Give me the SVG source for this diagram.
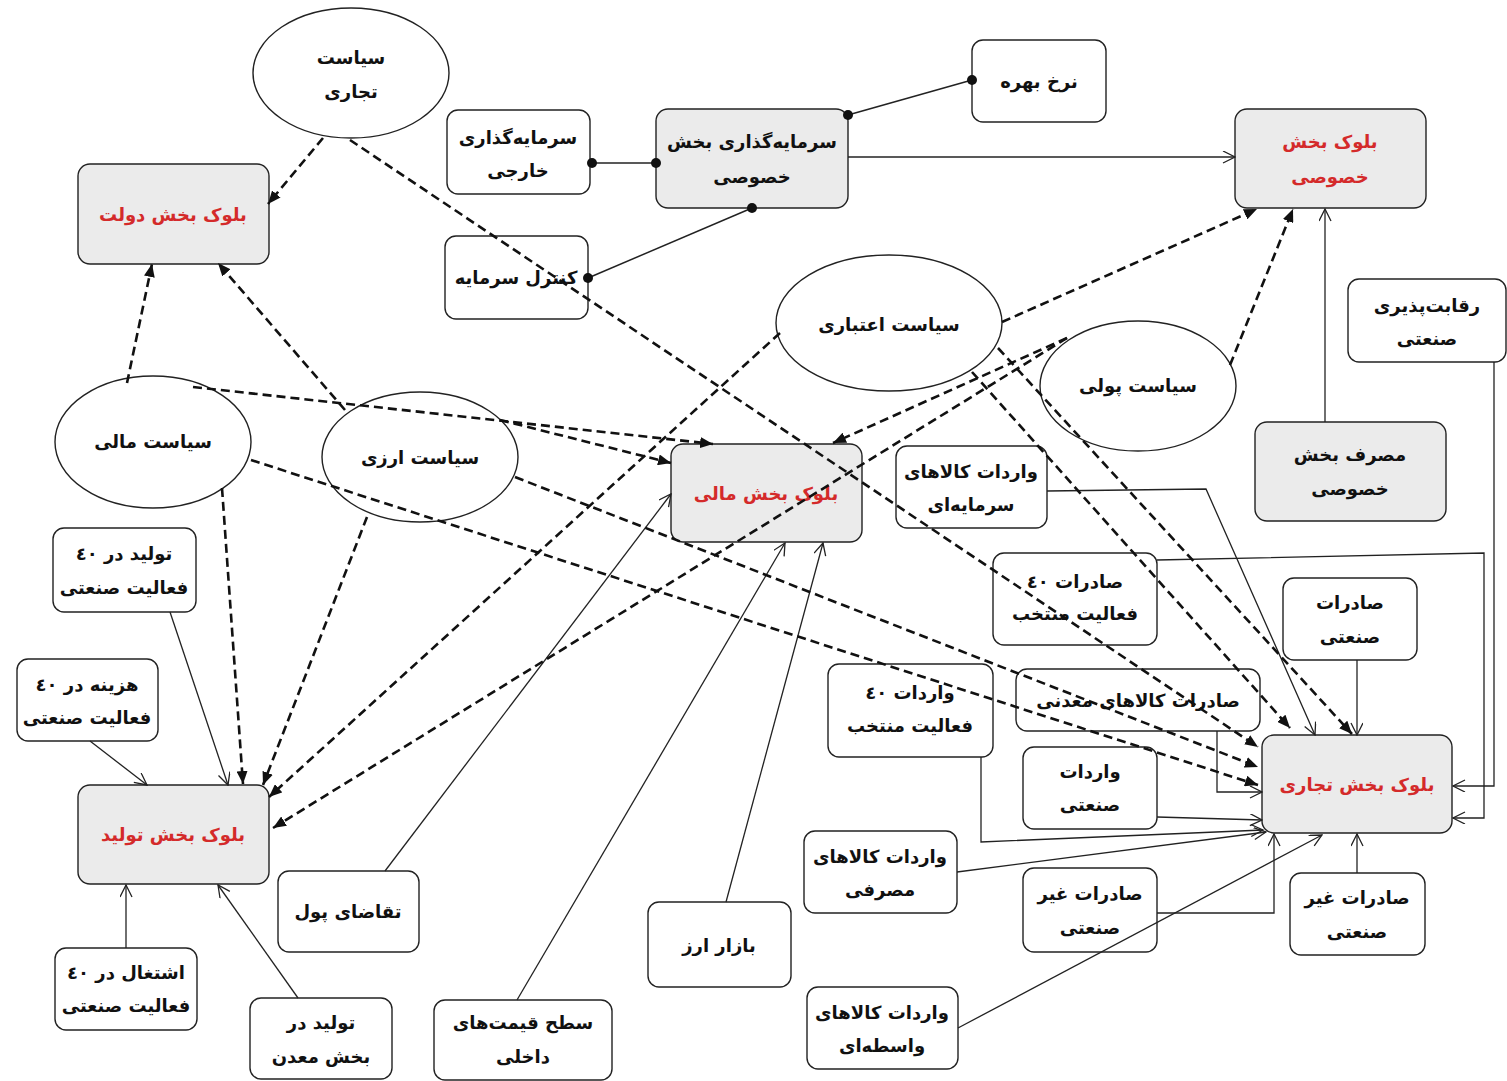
<svg xmlns="http://www.w3.org/2000/svg" width="1507" height="1081" viewBox="0 0 1507 1081">
<style>
.bx{fill:#fff;stroke:#222;stroke-width:1.4}
.gr{fill:#ebebeb}
.el{fill:#fff;stroke:#222;stroke-width:1.4}
.t{font-family:"DejaVu Sans",sans-serif;font-weight:bold;font-size:18px;text-anchor:middle;dominant-baseline:central;direction:rtl;fill:#111}
.red{fill:#d42a2a}
.ds{fill:none;stroke:#111;stroke-width:2.6;stroke-dasharray:9 5;marker-end:url(#af)}
.sl{fill:none;stroke:#222;stroke-width:1.3;marker-end:url(#ao)}
.dl{fill:none;stroke:#222;stroke-width:1.5}
.dot{fill:#111}
</style>
<defs>
<marker id="af" markerUnits="userSpaceOnUse" markerWidth="14" markerHeight="11" refX="13" refY="5.5" orient="auto"><path d="M0,0 L13,5.5 L0,11 z" fill="#111"/></marker>
<marker id="ao" markerUnits="userSpaceOnUse" markerWidth="14" markerHeight="14" refX="13" refY="6" orient="auto"><path d="M1,0 L13,6 L1,12" fill="none" stroke="#222" stroke-width="1.3"/></marker>
</defs>
<rect width="1507" height="1081" fill="#fff"/>
<g id="nodes">
<g id="n-siasat-tejari"><ellipse class="el" cx="351" cy="73" rx="98" ry="65"/><text class="t" x="351" y="57">سیاست</text><text class="t" x="351" y="91">تجاری</text></g>
<g id="n-block-dolat"><rect class="bx gr" x="78" y="164" width="191" height="100" rx="12"/><text class="t red" x="173" y="214">بلوک بخش دولت</text></g>
<g id="n-sarmaye-khareji"><rect class="bx" x="447" y="110" width="143" height="84" rx="11"/><text class="t" x="518" y="137">سرمایه‌گذاری</text><text class="t" x="518" y="170">خارجی</text></g>
<g id="n-sarmaye-khosusi"><rect class="bx gr" x="656" y="109" width="192" height="99" rx="12"/><text class="t" x="752" y="141">سرمایه‌گذاری بخش</text><text class="t" x="752" y="176">خصوصی</text></g>
<g id="n-nerkh-bahre"><rect class="bx" x="972" y="40" width="134" height="82" rx="11"/><text class="t" x="1039" y="81">نرخ بهره</text></g>
<g id="n-block-khosusi"><rect class="bx gr" x="1235" y="109" width="191" height="99" rx="12"/><text class="t red" x="1330" y="141">بلوک بخش</text><text class="t red" x="1330" y="176">خصوصی</text></g>
<g id="n-control-sarmaye"><rect class="bx" x="445" y="236" width="143" height="83" rx="11"/><text class="t" x="516" y="277">کنترل سرمایه</text></g>
<g id="n-siasat-etebari"><ellipse class="el" cx="889" cy="323" rx="113" ry="68"/><text class="t" x="889" y="324">سیاست اعتباری</text></g>
<g id="n-siasat-puli"><ellipse class="el" cx="1138" cy="386" rx="98" ry="65"/><text class="t" x="1138" y="385">سیاست پولی</text></g>
<g id="n-reghabat"><rect class="bx" x="1348" y="279" width="158" height="83" rx="11"/><text class="t" x="1427" y="305">رقابت‌پذیری</text><text class="t" x="1427" y="338">صنعتی</text></g>
<g id="n-masraf-khosusi"><rect class="bx gr" x="1255" y="422" width="191" height="99" rx="12"/><text class="t" x="1350" y="454">مصرف بخش</text><text class="t" x="1350" y="488">خصوصی</text></g>
<g id="n-siasat-mali"><ellipse class="el" cx="153" cy="442" rx="98" ry="66"/><text class="t" x="153" y="441">سیاست مالی</text></g>
<g id="n-siasat-arzi"><ellipse class="el" cx="420" cy="457" rx="98" ry="65"/><text class="t" x="420" y="457">سیاست ارزی</text></g>
<g id="n-block-mali"><rect class="bx gr" x="671" y="444" width="191" height="98" rx="12"/><text class="t red" x="766" y="493">بلوک بخش مالی</text></g>
<g id="n-varedat-sarmaye"><rect class="bx" x="896" y="446" width="151" height="82" rx="11"/><text class="t" x="971" y="471">واردات کالاهای</text><text class="t" x="971" y="504">سرمایه‌ای</text></g>
<g id="n-saderat-40"><rect class="bx" x="993" y="553" width="164" height="92" rx="11"/><text class="t" x="1075" y="581">صادرات ٤٠</text><text class="t" x="1075" y="613">فعالیت منتخب</text></g>
<g id="n-saderat-sanati"><rect class="bx" x="1283" y="578" width="134" height="82" rx="11"/><text class="t" x="1350" y="602">صادرات</text><text class="t" x="1350" y="636">صنعتی</text></g>
<g id="n-varedat-40"><rect class="bx" x="828" y="664" width="165" height="93" rx="11"/><text class="t" x="910" y="692">واردات ٤٠</text><text class="t" x="910" y="725">فعالیت منتخب</text></g>
<g id="n-saderat-maadani"><rect class="bx" x="1016" y="669" width="244" height="62" rx="11"/><text class="t" x="1138" y="700">صادرات کالاهای معدنی</text></g>
<g id="n-block-tejari"><rect class="bx gr" x="1262" y="735" width="190" height="98" rx="12"/><text class="t red" x="1357" y="784">بلوک بخش تجاری</text></g>
<g id="n-varedat-sanati"><rect class="bx" x="1023" y="747" width="134" height="82" rx="11"/><text class="t" x="1090" y="771">واردات</text><text class="t" x="1090" y="804">صنعتی</text></g>
<g id="n-varedat-masrafi"><rect class="bx" x="804" y="831" width="153" height="82" rx="11"/><text class="t" x="880" y="856">واردات کالاهای</text><text class="t" x="880" y="889">مصرفی</text></g>
<g id="n-saderat-gheir-1"><rect class="bx" x="1023" y="868" width="134" height="84" rx="11"/><text class="t" x="1090" y="893">صادرات غیر</text><text class="t" x="1090" y="927">صنعتی</text></g>
<g id="n-saderat-gheir-2"><rect class="bx" x="1290" y="873" width="135" height="82" rx="11"/><text class="t" x="1357" y="897">صادرات غیر</text><text class="t" x="1357" y="931">صنعتی</text></g>
<g id="n-varedat-vaseteh"><rect class="bx" x="807" y="987" width="151" height="82" rx="11"/><text class="t" x="882" y="1012">واردات کالاهای</text><text class="t" x="882" y="1045">واسطه‌ای</text></g>
<g id="n-bazar-arz"><rect class="bx" x="648" y="902" width="143" height="85" rx="11"/><text class="t" x="719" y="945">بازار ارز</text></g>
<g id="n-sath-gheimat"><rect class="bx" x="434" y="1000" width="178" height="80" rx="11"/><text class="t" x="523" y="1022">سطح قیمت‌های</text><text class="t" x="523" y="1056">داخلی</text></g>
<g id="n-taghaza-pul"><rect class="bx" x="278" y="871" width="141" height="81" rx="11"/><text class="t" x="348" y="911">تقاضای پول</text></g>
<g id="n-tolid-maadan"><rect class="bx" x="250" y="998" width="142" height="81" rx="11"/><text class="t" x="321" y="1022">تولید در</text><text class="t" x="321" y="1056">بخش معدن</text></g>
<g id="n-eshteghal"><rect class="bx" x="55" y="948" width="142" height="82" rx="11"/><text class="t" x="126" y="972">اشتغال در ٤٠</text><text class="t" x="126" y="1005">فعالیت صنعتی</text></g>
<g id="n-block-tolid"><rect class="bx gr" x="78" y="785" width="191" height="99" rx="12"/><text class="t red" x="173" y="834">بلوک بخش تولید</text></g>
<g id="n-hazine"><rect class="bx" x="17" y="659" width="141" height="82" rx="11"/><text class="t" x="87" y="684">هزینه در ٤٠</text><text class="t" x="87" y="717">فعالیت صنعتی</text></g>
<g id="n-tolid-40"><rect class="bx" x="53" y="528" width="143" height="84" rx="11"/><text class="t" x="124" y="553">تولید در ٤٠</text><text class="t" x="124" y="587">فعالیت صنعتی</text></g>
</g>
<g id="connectors">
<path class="dl" d="M592,163 L656,163"/><circle class="dot" cx="592" cy="163" r="5"/><circle class="dot" cx="656" cy="163" r="5"/>
<path class="dl" d="M588,278 L752,208"/><circle class="dot" cx="588" cy="278" r="5"/><circle class="dot" cx="752" cy="208" r="5"/>
<path class="dl" d="M848,115 L972,80"/><circle class="dot" cx="848" cy="115" r="5"/><circle class="dot" cx="972" cy="80" r="5"/>
<path class="sl" d="M848,157 L1235,157"/>
<path class="sl" d="M1325,422 L1325,209"/>
<path class="sl" d="M1494,362 L1494,786 L1453,786"/>
<path class="sl" d="M1157,560 L1484,553 L1484,818 L1453,818"/>
<path class="sl" d="M1047,491 L1206,489 L1315,735"/>
<path class="sl" d="M1357,660 L1357,735"/>
<path class="sl" d="M1217,731 L1217,792 L1262,792"/>
<path class="sl" d="M1157,817 L1262,820"/>
<path class="sl" d="M981,757 L981,842 L1263,830"/>
<path class="sl" d="M957,872 L1266,832"/>
<path class="sl" d="M1157,913 L1274,913 L1274,834"/>
<path class="sl" d="M958,1028 L1322,835"/>
<path class="sl" d="M1357,873 L1357,834"/>
<path class="sl" d="M385,871 L671,494"/>
<path class="sl" d="M517,1000 L785,543"/>
<path class="sl" d="M726,902 L823,543"/>
<path class="sl" d="M170,612 L228,785"/>
<path class="sl" d="M90,741 L147,785"/>
<path class="sl" d="M126,948 L126,885"/>
<path class="sl" d="M298,998 L218,885"/>
<path class="ds" d="M323,138 L268,204"/>
<path class="ds" d="M350,140 L1258,747"/>
<path class="ds" d="M127,383 L152,264"/>
<path class="ds" d="M345,410 L218,263"/>
<path class="ds" d="M193,387 L713,444"/>
<path class="ds" d="M500,420 L671,463"/>
<path class="ds" d="M251,460 L1258,785"/>
<path class="ds" d="M515,477 L1258,767"/>
<path class="ds" d="M222,488 L243,784"/>
<path class="ds" d="M367,517 L263,785"/>
<path class="ds" d="M780,333 L269,797"/>
<path class="ds" d="M1067,338 L273,828"/>
<path class="ds" d="M1067,338 L833,443"/>
<path class="ds" d="M1002,322 L1257,209"/>
<path class="ds" d="M1230,365 L1293,209"/>
<path class="ds" d="M998,348 L1352,734"/>
<path class="ds" d="M972,372 L1290,728"/>
</g>
</svg>
